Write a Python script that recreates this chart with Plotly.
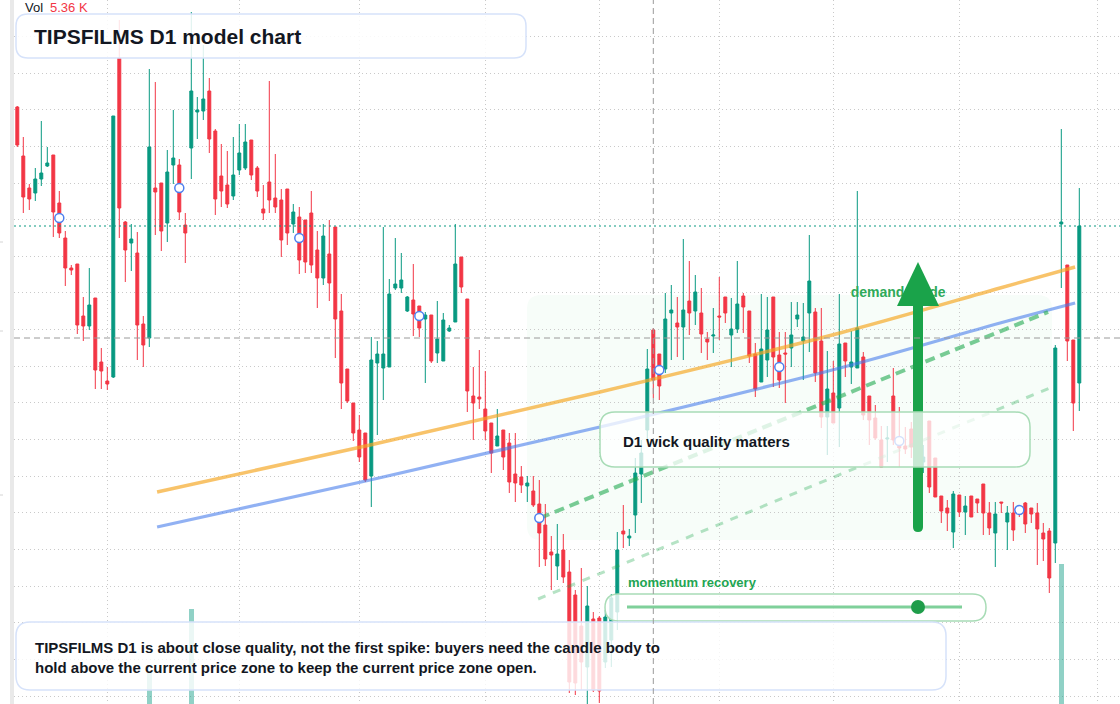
import plotly.graph_objects as go

W, H = 1120, 704
ML = 14  # left margin (price-scale strip)

# ---------------- data (daily candles, price units) ----------------
idx = list(range(178))
open_ = [
    893, 844, 812, 807, 821, 834, 845, 797, 762, 732,
    736, 684, 674, 702, 638, 619, 623, 942, 778, 757,
    747, 676, 662, 812, 817, 777, 835, 835, 775, 852,
    888, 889, 909, 869, 824, 815, 804, 830, 832, 860,
    832, 791, 818, 802, 800, 811, 776, 783, 780, 787,
    750, 722, 746, 773, 689, 631, 597, 570, 567, 524,
    637, 632, 633, 712, 712, 689, 700, 694, 681, 685,
    647, 639, 669, 678, 743, 701, 604, 603, 591, 577,
    554, 570, 557, 526, 523, 514, 509, 496, 475, 448,
    434, 450, 428, 405, 374, 333, 381, 382, 338, 360,
    388, 469, 462, 485, 526, 570, 670, 646, 631, 687,
    677, 673, 699, 689, 687, 661, 664, 684, 703, 665,
    671, 704, 689, 646, 618, 640, 703, 645, 647, 652,
    681, 659, 687, 688, 659, 583, 607, 592, 657, 633,
    632, 643, 604, 582, 560, 561, 604, 554, 554, 571,
    545, 538, 579, 542, 504, 492, 468, 505, 488, 504,
    501, 516, 487, 467, 498, 478, 487, 493, 497, 492,
    487, 467, 469, 457, 776, 735, 660, 617]
close = [
    855, 803, 801, 821, 827, 837, 788, 767, 732, 730,
    675, 674, 695, 630, 629, 616, 884, 792, 750, 761,
    675, 655, 853, 808, 769, 828, 842, 788, 767, 909,
    890, 901, 861, 801, 809, 796, 825, 847, 858, 825,
    809, 787, 800, 793, 760, 767, 788, 740, 738, 735,
    722, 764, 717, 681, 617, 599, 567, 543, 520, 640,
    646, 646, 706, 716, 720, 703, 686, 672, 685, 639,
    661, 680, 672, 736, 713, 609, 597, 601, 569, 547,
    564, 543, 518, 517, 515, 517, 495, 467, 441, 445,
    446, 423, 318, 317, 338, 394, 310, 309, 383, 402,
    450, 466, 464, 527, 547, 631, 620, 614, 681, 690,
    673, 690, 687, 708, 666, 658, 665, 683, 687, 671,
    696, 693, 644, 611, 651, 670, 643, 620, 646, 665,
    685, 663, 719, 627, 583, 611, 577, 656, 639, 638,
    672, 585, 580, 562, 533, 562, 560, 552, 551, 553,
    560, 543, 513, 503, 489, 487, 506, 488, 494, 483,
    497, 487, 472, 486, 497, 487, 470, 490, 476, 486,
    471, 461, 422, 652, 778, 659, 597, 774]
high = [
    894, 863, 816, 832, 879, 853, 845, 809, 769, 735,
    736, 703, 732, 702, 652, 633, 884, 980, 779, 776,
    768, 684, 931, 918, 817, 850, 890, 841, 787, 988,
    903, 955, 922, 871, 856, 849, 863, 876, 876, 860,
    834, 815, 919, 846, 811, 811, 796, 793, 780, 809,
    769, 776, 780, 773, 706, 631, 597, 585, 567, 663,
    659, 773, 721, 762, 747, 704, 736, 694, 688, 685,
    699, 687, 675, 776, 743, 701, 633, 650, 629, 577,
    591, 570, 567, 567, 534, 524, 524, 520, 496, 464,
    476, 466, 440, 410, 432, 414, 388, 384, 390, 406,
    468, 495, 471, 542, 560, 651, 672, 646, 707, 715,
    703, 761, 739, 725, 712, 668, 692, 723, 703, 702,
    739, 707, 689, 657, 706, 703, 703, 668, 668, 698,
    698, 697, 765, 692, 692, 649, 639, 706, 657, 669,
    809, 648, 604, 595, 574, 574, 632, 593, 573, 578,
    570, 555, 579, 542, 504, 500, 509, 505, 504, 504,
    501, 516, 498, 498, 498, 494, 498, 494, 498, 492,
    497, 477, 472, 655, 871, 735, 660, 812]
low = [
    853, 787, 790, 799, 814, 833, 763, 762, 714, 725,
    666, 659, 670, 611, 611, 610, 622, 762, 718, 729,
    640, 633, 653, 765, 749, 758, 816, 780, 737, 821,
    861, 880, 847, 785, 793, 792, 800, 825, 830, 820,
    803, 780, 787, 787, 743, 755, 767, 726, 727, 727,
    692, 715, 699, 642, 591, 597, 559, 538, 518, 493,
    565, 600, 633, 710, 707, 688, 664, 663, 617, 637,
    637, 639, 668, 678, 707, 588, 560, 591, 560, 527,
    554, 530, 507, 498, 507, 498, 493, 433, 434, 410,
    420, 417, 307, 305, 310, 296, 308, 297, 332, 333,
    370, 452, 454, 467, 497, 560, 602, 600, 627, 640,
    643, 640, 665, 675, 647, 640, 647, 660, 677, 633,
    667, 667, 637, 603, 618, 623, 613, 612, 597, 633,
    673, 620, 648, 618, 572, 545, 577, 553, 623, 616,
    632, 580, 555, 560, 533, 538, 555, 533, 546, 542,
    530, 527, 507, 503, 477, 469, 452, 483, 465, 483,
    487, 465, 465, 433, 487, 450, 459, 483, 467, 477,
    435, 439, 407, 437, 712, 639, 569, 589]
volume_k = [
    3.1, 2.8, 2.2, 2.0, 2.6, 1.8, 3.4, 2.9, 3.3, 1.5,
    3.6, 2.1, 2.4, 4.1, 2.0, 1.7, 5.6, 5.8, 3.0, 1.9,
    3.8, 2.5, 10.4, 4.4, 3.2, 3.5, 2.7, 2.9, 2.3, 19.6,
    3.9, 4.2, 4.6, 3.7, 2.8, 2.6, 2.9, 2.7, 3.1, 3.0,
    2.4, 1.9, 4.3, 2.2, 2.8, 2.5, 2.1, 2.9, 2.7, 3.1,
    2.6, 2.4, 2.8, 3.9, 4.5, 3.2, 3.3, 2.9, 3.1, 5.2,
    2.7, 3.8, 4.0, 2.4, 2.2, 1.9, 2.8, 2.3, 2.6, 2.9,
    2.5, 2.7, 1.6, 3.9, 2.4, 4.2, 2.8, 2.5, 2.6, 2.9,
    2.2, 2.7, 3.0, 2.8, 1.9, 1.8, 2.1, 3.1, 3.2, 2.6,
    2.4, 2.5, 4.8, 4.1, 3.6, 4.4, 3.7, 3.9, 3.3, 3.5,
    4.6, 2.2, 1.7, 3.8, 3.1, 4.9, 5.36, 3.0, 3.7, 2.6,
    2.3, 3.4, 2.8, 2.5, 2.7, 2.0, 2.2, 2.6, 2.1, 2.8,
    3.0, 2.3, 2.9, 3.1, 3.5, 2.8, 3.2, 2.6, 2.4, 2.5,
    1.9, 2.7, 3.6, 3.3, 3.9, 3.0, 2.6, 3.8, 2.2, 2.4,
    4.7, 3.4, 2.8, 2.3, 2.6, 2.0, 3.1, 2.5, 1.8, 2.2,
    2.4, 1.9, 3.5, 2.6, 2.3, 2.1, 2.9, 1.8, 2.0, 2.2,
    1.7, 2.5, 2.1, 2.8, 1.6, 2.4, 2.2, 1.9, 2.3, 1.8,
    2.6, 2.0, 3.2, 5.9, 26.0, 4.8, 3.6, 5.1]

month_start_idx = [15, 37, 57, 78, 97, 117, 136, 157, 180]
marker_idx = [7, 27, 47, 67, 87, 107, 127, 147, 167]
marker_val = [782, 812, 762, 684, 482, 630, 633, 559, 490]

upper_idx = [23.3, 58.8, 97.1, 137.1, 163.8, 176.3]
upper_val = [508, 555, 608, 667, 712, 733]
lower_idx = [23.3, 58.8, 97.1, 137.1, 163.8, 176.3]
lower_val = [473, 520, 573, 632, 677, 697]
guide_idx = [87.1, 171.8]
guide_val = [482, 688]
guide2_idx = [86.8, 172.1]
guide2_val = [401, 612]

crosshair_idx = 106
crosshair_val = 662
last_close = close[-1]

UP, DN = "#089981", "#F23645"
FONT = "Liberation Sans, Arial, sans-serif"

# axis ranges (6 px per candle, 1 px per price unit)
x0r = -0.55
x1r = x0r + (W - ML) / 6.0
y_lo, y_hi = 296, 1000
v_lo = 6.0
v_hi = v_lo + H / 7.0


def px(x):
    return (x - ML) / (W - ML)


def py(y):
    return 1 - y / H


def rr(x0, y0, x1, y1, r):
    pts = [
        f"M{px(x0 + r)},{py(y0)}", f"L{px(x1 - r)},{py(y0)}",
        f"Q{px(x1)},{py(y0)} {px(x1)},{py(y0 + r)}", f"L{px(x1)},{py(y1 - r)}",
        f"Q{px(x1)},{py(y1)} {px(x1 - r)},{py(y1)}", f"L{px(x0 + r)},{py(y1)}",
        f"Q{px(x0)},{py(y1)} {px(x0)},{py(y1 - r)}", f"L{px(x0)},{py(y0 + r)}",
        f"Q{px(x0)},{py(y0)} {px(x0 + r)},{py(y0)}", "Z"]
    return " ".join(pts)


fig = go.Figure()

vol_colors = ["rgba(8,153,129,0.45)" if c >= o else "rgba(242,54,69,0.45)"
              for o, c in zip(open_, close)]
fig.add_trace(go.Bar(x=idx, y=volume_k, marker_color=vol_colors, marker_line_width=0,
                     width=0.8, yaxis="y2", hoverinfo="skip"))

fig.add_trace(go.Candlestick(
    x=idx, open=open_, high=high, low=low, close=close,
    increasing=dict(line=dict(color=UP, width=1), fillcolor=UP),
    decreasing=dict(line=dict(color=DN, width=1), fillcolor=DN),
    whiskerwidth=0, hoverinfo="skip"))

fig.add_trace(go.Scatter(x=upper_idx, y=upper_val, mode="lines",
                         line=dict(color="rgba(245,166,35,0.68)", width=3.5, shape="spline")))
fig.add_trace(go.Scatter(x=lower_idx, y=lower_val, mode="lines",
                         line=dict(color="rgba(66,120,235,0.58)", width=3.2, shape="spline")))
fig.add_trace(go.Scatter(x=guide_idx, y=guide_val, mode="lines",
                         line=dict(color="rgba(34,170,80,0.6)", width=4, dash="10px,6px")))
fig.add_trace(go.Scatter(x=guide2_idx, y=guide2_val, mode="lines",
                         line=dict(color="rgba(34,170,80,0.33)", width=3, dash="8px,8px")))
fig.add_trace(go.Scatter(x=marker_idx, y=marker_val, mode="markers",
                         marker=dict(size=9, color="white",
                                     line=dict(color="#4d7fef", width=1.5))))
fig.add_trace(go.Scatter(x=[138.9], y=[707], mode="text", text=["demand guide"],
                         textposition="middle right",
                         textfont=dict(family=FONT, size=14, color="#2eaa5a", weight="bold")))

GREEN = "#1aa34a"
shapes = [
    # demand zone
    dict(type="path", xref="paper", yref="paper", path=rr(527, 295, 1052, 540, 14),
         fillcolor="rgba(34,197,94,0.035)", line=dict(width=0), layer="below"),
    # arrow
    dict(type="path", xref="paper", yref="paper", path=rr(913, 298, 923, 532, 5),
         fillcolor=GREEN, line=dict(width=0), layer="above"),
    dict(type="path", xref="paper", yref="paper",
         path=f"M{px(897)},{py(306)} L{px(939)},{py(306)} L{px(918)},{py(262)} Z",
         fillcolor=GREEN, line=dict(width=0), layer="above"),
    # D1 box
    dict(type="path", xref="paper", yref="paper", path=rr(600, 412, 1030, 467, 15),
         fillcolor="rgba(255,255,255,0.76)", line=dict(color="#a8dcb6", width=1.5), layer="above"),
    # momentum pill
    dict(type="path", xref="paper", yref="paper", path=rr(605, 594, 986, 621, 13.5),
         fillcolor="rgba(255,255,255,0.8)", line=dict(color="#a8dcb6", width=1.5), layer="above"),
    dict(type="line", xref="paper", yref="paper", x0=px(627), x1=px(962), y0=py(607), y1=py(607),
         line=dict(color="#7fd09a", width=3), layer="above"),
    dict(type="circle", xref="paper", yref="paper", x0=px(911), x1=px(925), y0=py(600), y1=py(614),
         fillcolor="#1f9d4a", line=dict(width=0), layer="above"),
    # bottom note box
    dict(type="path", xref="paper", yref="paper", path=rr(16, 622, 946, 690, 14),
         fillcolor="rgba(255,255,255,0.82)", line=dict(color="#d6e2fa", width=1.5), layer="above"),
    # title box
    dict(type="path", xref="paper", yref="paper", path=rr(16, 14, 526, 58, 12),
         fillcolor="rgba(255,255,255,0.86)", line=dict(color="#d6e2fa", width=1.5), layer="above"),
    # last price line
    dict(type="line", xref="paper", yref="y", x0=0, x1=1, y0=last_close, y1=last_close,
         line=dict(color=UP, width=1, dash="2px,3px"), layer="above"),
    # crosshair
    dict(type="line", xref="paper", yref="y", x0=0, x1=1, y0=crosshair_val, y1=crosshair_val,
         line=dict(color="#9a9a9a", width=1, dash="6px,4px"), layer="above"),
    dict(type="line", xref="x", yref="paper", x0=crosshair_idx, x1=crosshair_idx, y0=0, y1=1,
         line=dict(color="#9a9a9a", width=1, dash="6px,4px"), layer="above"),
    # left price-scale strip
    dict(type="rect", xref="paper", yref="paper", x0=px(10), x1=px(14), y0=0, y1=1,
         fillcolor="#e9e9e9", line=dict(width=0), layer="above"),
]
for ty in (242, 331, 495):
    shapes.append(dict(type="line", xref="paper", yref="paper", x0=px(0), x1=px(3),
                       y0=py(ty), y1=py(ty), line=dict(color="#d4d4d4", width=1), layer="above"))

annotations = [
    dict(x=px(32), y=py(36), xref="paper", yref="paper", xanchor="left", yanchor="middle",
         text="<b>TIPSFILMS D1 model chart</b>", showarrow=False,
         font=dict(family=FONT, size=21, color="#131722")),
    dict(x=px(23), y=py(8), xref="paper", yref="paper", xanchor="left", yanchor="middle",
         text="Vol", showarrow=False, font=dict(family=FONT, size=13, color="#131722")),
    dict(x=px(48), y=py(8), xref="paper", yref="paper", xanchor="left", yanchor="middle",
         text=f"{volume_k[crosshair_idx]:.2f} K", showarrow=False,
         font=dict(family=FONT, size=13, color=DN)),
    dict(x=px(621), y=py(441), xref="paper", yref="paper", xanchor="left", yanchor="middle",
         text="<b>D1 wick quality matters</b>", showarrow=False,
         font=dict(family=FONT, size=15, color="#131722")),
    dict(x=px(626), y=py(582), xref="paper", yref="paper", xanchor="left", yanchor="middle",
         text="<b>momentum recovery</b>", showarrow=False,
         font=dict(family=FONT, size=13, color="#22a552")),
    dict(x=px(33), y=py(657), xref="paper", yref="paper", xanchor="left", yanchor="middle",
         align="left", showarrow=False,
         text="<b>TIPSFILMS D1 is about close quality, not the first spike: buyers need the candle body to"
              "<br>hold above the current price zone to keep the current price zone open.</b>",
         font=dict(family=FONT, size=15, color="#131722")),
]

GRID = dict(showgrid=True, gridcolor="#c9c9c9", griddash="1px,3px", gridwidth=1,
            zeroline=False, showline=False, ticks="", showticklabels=False)

fig.update_layout(
    width=W, height=H, autosize=False,
    margin=dict(l=ML, r=0, t=0, b=0, pad=0),
    paper_bgcolor="white", plot_bgcolor="white",
    showlegend=False, bargap=0,
    shapes=shapes, annotations=annotations,
    xaxis=dict(range=[x0r, x1r], tickvals=month_start_idx,
               rangeslider=dict(visible=False), **GRID),
    yaxis=dict(range=[y_lo, y_hi], tick0=304, dtick=36.64, **GRID),
    yaxis2=dict(range=[v_lo, v_hi], overlaying="y", visible=False, showgrid=False),
)

fig.write_html("out.html")
